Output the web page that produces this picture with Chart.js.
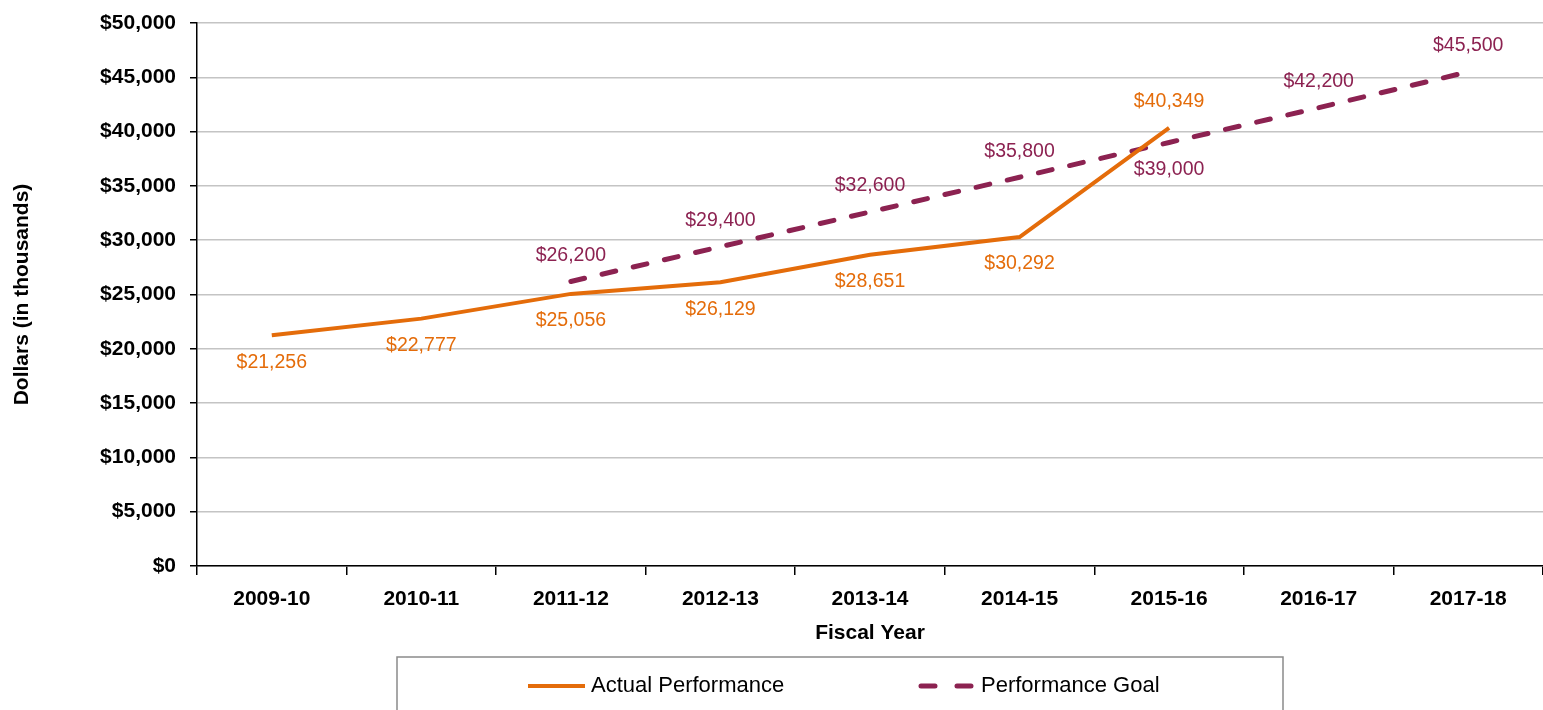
<!DOCTYPE html>
<html>
<head>
<meta charset="utf-8">
<script src="https://cdn.jsdelivr.net/npm/chart.js@4.4.1/dist/chart.umd.min.js"></script>
<style>
  html, body { margin: 0; padding: 0; background: #ffffff; }
  #wrap { width: 1543px; height: 710px; position: relative; }
</style>
</head>
<body>
<div id="wrap"><canvas id="chart"></canvas></div>
<script>
  const fiscalYears = ["2009-10", "2010-11", "2011-12", "2012-13", "2013-14", "2014-15", "2015-16", "2016-17", "2017-18"];
  const actualPerformance = [21256, 22777, 25056, 26129, 28651, 30292, 40349, null, null];
  const performanceGoal = [null, null, 26200, 29400, 32600, 35800, 39000, 42200, 45500];
  const yTicks = [0, 5000, 10000, 15000, 20000, 25000, 30000, 35000, 40000, 45000, 50000];

  const FONT = "'Liberation Sans Narrow', 'Arial Narrow', 'Liberation Sans', Arial, sans-serif";
  const ORANGE = "#E46C0A";
  const MAROON = "#8C2251";

  function money(v) {
    return "$" + Number(v).toLocaleString("en-US");
  }

  // value labels: above or below each point
  const valueLabels = {
    id: "valueLabels",
    afterDatasetsDraw(chart) {
      const ctx = chart.ctx;
      ctx.save();
      ctx.font = "19.5px " + FONT;
      ctx.textAlign = "center";
      ctx.textBaseline = "middle";
      chart.data.datasets.forEach(function (ds, di) {
        const meta = chart.getDatasetMeta(di);
        ctx.fillStyle = ds.borderColor;
        meta.data.forEach(function (pt, i) {
          const v = ds.data[i];
          if (v === null || v === undefined) return;
          const above = ds.labelAbove(i);
          ctx.fillText(money(v), pt.x, pt.y + (above ? -26 : 27));
        });
      });
      ctx.restore();
    }
  };

  // boxed legend under the x axis title
  const boxLegend = {
    id: "boxLegend",
    afterDraw(chart) {
      const ctx = chart.ctx;
      const top = 657, left = 397, right = 1283, bottom = chart.height + 2;
      const starts = [528, 918];
      ctx.save();
      ctx.strokeStyle = "#8a8a8a";
      ctx.lineWidth = 1.5;
      ctx.strokeRect(left, top, right - left, bottom - top);
      const cy = 686;
      ctx.font = "22px " + FONT;
      ctx.textBaseline = "middle";
      ctx.textAlign = "left";
      chart.data.datasets.forEach(function (ds, di) {
        const x = starts[di];
        ctx.beginPath();
        ctx.strokeStyle = ds.borderColor;
        ctx.lineWidth = ds.borderWidth;
        ctx.lineCap = di === 0 ? "butt" : "round";
        ctx.setLineDash(di === 0 ? [] : [14, 22]);
        ctx.moveTo(x + (di === 0 ? 0 : 3), cy);
        ctx.lineTo(x + 57, cy);
        ctx.stroke();
        ctx.setLineDash([]);
        ctx.fillStyle = "#000000";
        ctx.fillText(ds.label, x + 63, cy);
      });
      ctx.restore();
    }
  };

  new Chart(document.getElementById("chart"), {
    type: "line",
    data: {
      labels: fiscalYears,
      datasets: [
        {
          label: "Actual Performance",
          data: actualPerformance,
          borderColor: ORANGE,
          backgroundColor: ORANGE,
          borderWidth: 4,
          pointRadius: 0,
          tension: 0,
          labelAbove: function (i) { return i === 6; }
        },
        {
          label: "Performance Goal",
          data: performanceGoal,
          borderColor: MAROON,
          backgroundColor: MAROON,
          borderWidth: 5,
          borderDash: [14, 18],
          borderCapStyle: "round",
          pointRadius: 0,
          tension: 0,
          labelAbove: function (i) { return i !== 6; }
        }
      ]
    },
    options: {
      responsive: true,
      maintainAspectRatio: false,
      animation: false,
      layout: { padding: { top: 23, right: 0, bottom: 60, left: 0 } },
      plugins: {
        legend: { display: false },
        tooltip: { enabled: false }
      },
      scales: {
        x: {
          offset: true,
          grid: { offset: true, drawOnChartArea: false, drawTicks: true, tickLength: 9, color: "#000000", lineWidth: 1.5 },
          border: { display: true, color: "#000000", width: 1.5 },
          ticks: { color: "#000000", font: { family: FONT, size: 21, weight: "bold" }, padding: 12, maxRotation: 0 },
          title: { display: true, text: "Fiscal Year", color: "#000000", font: { family: FONT, size: 21, weight: "bold" }, padding: { top: 0, bottom: 4 } },
          afterFit: function (scale) { scale.height = 84; scale.paddingLeft = 0; scale.paddingRight = 0; }
        },
        y: {
          min: 0,
          max: 50000,
          afterBuildTicks: function (scale) { scale.ticks = yTicks.map(function (v) { return { value: v }; }); },
          grid: { color: "#c4c4c4", lineWidth: 1.5, tickColor: "#000000", tickLength: 7, drawTicks: true },
          border: { display: true, color: "#000000", width: 1.5 },
          ticks: { color: "#000000", font: { family: FONT, size: 21, weight: "bold" }, padding: 14, callback: function (v) { return money(v); } },
          title: { display: true, text: "Dollars (in thousands)", color: "#000000", font: { family: FONT, size: 21, weight: "bold" }, padding: { top: 10, bottom: 0 } },
          afterFit: function (scale) { scale.width = 197; scale.paddingTop = 0; scale.paddingBottom = 0; }
        }
      }
    },
    plugins: [valueLabels, boxLegend]
  });
</script>
</body>
</html>
